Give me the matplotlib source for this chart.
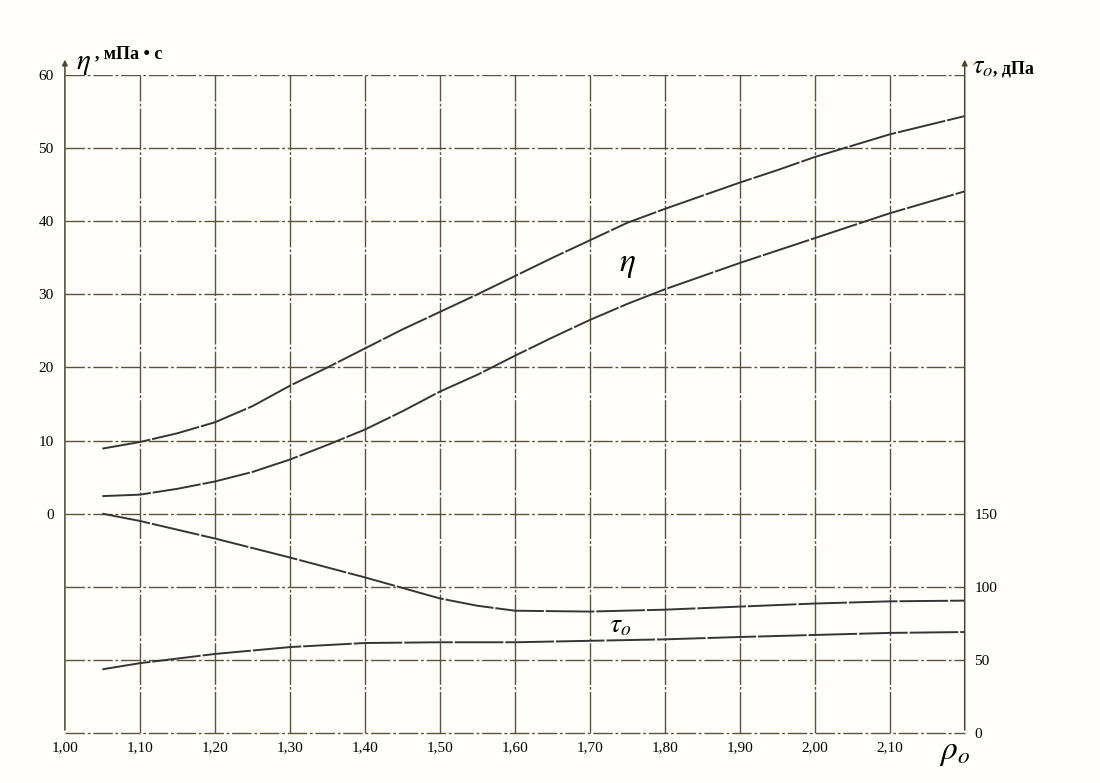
import numpy as np
import matplotlib.pyplot as plt

# плотность, г/см3
rho = [1.05, 1.10, 1.15, 1.20, 1.25, 1.30, 1.35, 1.40, 1.45, 1.50, 1.55, 1.60, 1.65,
       1.70, 1.75, 1.80, 1.85, 1.90, 1.95, 2.00, 2.10, 2.20]

# вязкость, мПа*с (две кривые)
eta_upper = [8.9, 9.8, 11.0, 12.5, 14.7, 17.5, 20.0, 22.6, 25.2, 27.6, 30.0, 32.5, 35.0,
             37.4, 39.8, 41.7, 43.5, 45.3, 47.0, 48.8, 51.9, 54.4]
eta_lower = [2.4, 2.6, 3.4, 4.4, 5.7, 7.4, 9.4, 11.5, 14.0, 16.7, 19.0, 21.6, 24.1,
             26.5, 28.7, 30.7, 32.5, 34.3, 36.0, 37.7, 41.1, 44.1]

# ДНС, дПа (две кривые)
rho_tau = [1.05, 1.10, 1.20, 1.30, 1.40, 1.50, 1.55, 1.60, 1.70, 1.80, 1.90, 2.00, 2.10, 2.20]
tau_upper = [150, 145, 133, 120, 106.4, 92, 87, 83.6, 83, 84.3, 86.4, 88.5, 90, 90.5]
tau_lower = [43.5, 47.7, 54, 58.7, 61.5, 62, 62, 62, 63, 64, 65.6, 67, 68.4, 69]

x_ticks = [1.00, 1.10, 1.20, 1.30, 1.40, 1.50, 1.60, 1.70, 1.80, 1.90, 2.00, 2.10, 2.20]
x_labels = ['1,00', '1,10', '1,20', '1,30', '1,40', '1,50', '1,60', '1,70', '1,80',
            '1,90', '2,00', '2,10', '']
eta_ticks = [-30, -20, -10, 0, 10, 20, 30, 40, 50, 60]
eta_labels = ['', '', '', '0', '10', '20', '30', '40', '50', '60']
tau_ticks = [0, 50, 100, 150]

plt.rcParams['font.family'] = ['Liberation Serif', 'DejaVu Serif']
plt.rcParams['mathtext.fontset'] = 'stix'

grid_col = '#57533c'
line_col = '#353535'

fig = plt.figure(figsize=(11, 7.83), dpi=100)
fig.patch.set_facecolor('#fffefa')
ax = fig.add_axes([0.059, 0.064, 0.818, 0.840])
ax.set_facecolor('none')
ax.set_xlim(1.00, 2.20)
ax.set_ylim(-30, 60)

for s in ax.spines.values():
    s.set_visible(False)

# сетка
for xv in x_ticks[1:-1]:
    ax.plot([xv, xv], [-30, 60], color=grid_col, lw=1.0, ls=(0, (30, 1.5, 2, 1.5)))
for yv in eta_ticks[1:]:
    ax.plot([1.0, 2.2], [yv, yv], color=grid_col, lw=1.0, ls=(0, (14, 2, 2, 2)))
ax.plot([1.0, 2.2], [-30, -30], color=grid_col, lw=1.0, ls=(0, (14, 2, 2, 2)), clip_on=False)
# оси со стрелками
for xa in [1.0, 2.2]:
    ax.annotate('', xy=(xa, 62.5), xytext=(xa, -30),
                arrowprops=dict(arrowstyle='-|>', color='#4a4530', lw=1.1, mutation_scale=8),
                annotation_clip=False)

ax.set_xticks(x_ticks)
ax.set_xticklabels(x_labels, fontsize=11)
ax.set_yticks(eta_ticks)
ax.set_yticklabels(eta_labels, fontsize=11)
ax.tick_params(length=0, pad=8)
ax.tick_params(axis='x', pad=6)

ax.plot(rho, eta_upper, color=line_col, lw=1.4, ls=(0, (25, 1)))
ax.plot(rho, eta_lower, color=line_col, lw=1.4, ls=(0, (25, 1)))

ax2 = ax.twinx()
ax2.set_ylim(0, 450)
for s in ax2.spines.values():
    s.set_visible(False)
ax2.set_yticks(tau_ticks)
ax2.set_yticklabels([str(t) for t in tau_ticks], fontsize=11)
ax2.tick_params(length=0, pad=7)
ax2.plot(rho_tau, tau_upper, color=line_col, lw=1.4, ls=(0, (25, 1)))
ax2.plot(rho_tau, tau_lower, color=line_col, lw=1.4, ls=(0, (25, 1)))

# подписи
fig.text(0.069, 0.912, r'$\eta$', fontsize=21, ha='left', va='baseline')
fig.text(0.086, 0.926, ', мПа • с', fontsize=13, ha='left', va='baseline', weight='bold')
fig.text(0.884, 0.906, r'$\tau_o$', fontsize=19, ha='left', va='baseline')
fig.text(0.903, 0.906, ', дПа', fontsize=13, ha='left', va='baseline', weight='bold')
ax.text(1.75, 34.0, r'$\eta$', fontsize=24, ha='center', va='center')
ax2.text(1.74, 73, r'$\tau_o$', fontsize=20, ha='center', va='center')
fig.text(0.868, 0.038, r'$\rho_o$', fontsize=24, ha='center', va='center')

fig.savefig('out.png', dpi=100, facecolor=fig.get_facecolor())
